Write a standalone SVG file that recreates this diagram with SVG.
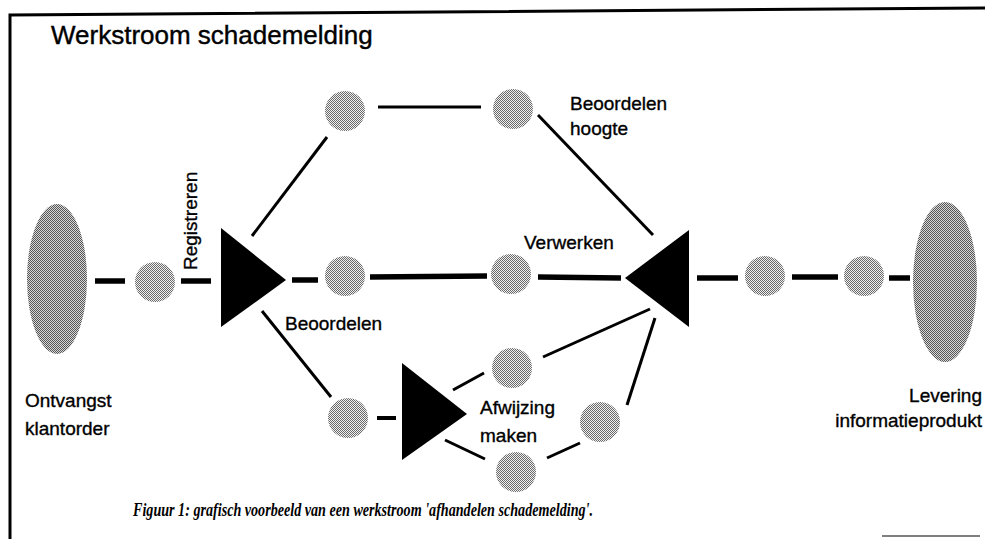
<svg xmlns="http://www.w3.org/2000/svg" width="985" height="539" viewBox="0 0 985 539">
  <defs>
    <!-- halftone screen used for the grey places and the end ovals -->
    <pattern id="screen" width="2" height="2" patternUnits="userSpaceOnUse">
      <rect width="2" height="2" fill="#f0f0f0"/>
      <rect x="0" y="0" width="1" height="1" fill="#6a6a6a"/>
      <rect x="1" y="1" width="1" height="1" fill="#6a6a6a"/>
    </pattern>
    <pattern id="screenDark" width="2" height="2" patternUnits="userSpaceOnUse">
      <rect width="2" height="2" fill="#d8d8d8"/>
      <rect x="0" y="0" width="1" height="1" fill="#555"/>
      <rect x="1" y="1" width="1" height="1" fill="#555"/>
    </pattern>
  </defs>
  <style>
    .frame { stroke: #000; stroke-width: 3; fill: none; }
    .thin { stroke: #000; stroke-width: 1.2; fill: none; }
    .flow { stroke: #000; stroke-width: 5.5; fill: none; }
    .link { stroke: #000; stroke-width: 3; fill: none; }
    .place { fill: url(#screen); }
    .end { fill: url(#screenDark); }
    .tri { fill: #000; }
    .lbl { font-family: "Liberation Sans", Arial, sans-serif; font-size: 19px; fill: #000; stroke: #000; stroke-width: 0.35; }
    .title { font-family: "Liberation Sans", Arial, sans-serif; font-size: 26px; fill: #000; stroke: #000; stroke-width: 0.4; }
    .cap { font-family: "Liberation Serif", "Times New Roman", serif; font-size: 18px; font-weight: bold; font-style: italic; fill: #000; }
  </style>

  <rect width="985" height="539" fill="#fff"/>

  <!-- frame -->
  <path class="frame" d="M10,539 L10,15 L985,8"/>
  <line class="thin" x1="882" y1="536" x2="980" y2="536"/>

  <text class="title" x="51" y="44">Werkstroom schademelding</text>

  <!-- connectors -->
  <g id="connectors">
    <line class="flow" x1="95" y1="281" x2="125" y2="281"/>
    <line class="flow" x1="181" y1="281" x2="211" y2="281"/>
    <line class="flow" x1="292" y1="280" x2="318" y2="280"/>
    <line class="flow" x1="370" y1="277" x2="487" y2="276"/>
    <line class="flow" x1="538" y1="277" x2="621" y2="278"/>
    <line class="flow" x1="697" y1="278" x2="738" y2="278"/>
    <line class="flow" x1="792" y1="277" x2="838" y2="277"/>
    <line class="flow" x1="889" y1="278" x2="910" y2="278"/>
    <line class="link" x1="378" y1="107" x2="481" y2="107"/>
    <line class="link" x1="327" y1="137" x2="252" y2="236"/>
    <line class="link" x1="538" y1="115" x2="653" y2="235"/>
    <line class="link" x1="262" y1="311" x2="331" y2="397"/>
    <line class="flow" x1="377" y1="418" x2="396" y2="418" style="stroke-width:4"/>
    <line class="link" x1="453" y1="390" x2="484" y2="373"/>
    <line class="link" x1="543" y1="357" x2="650" y2="309"/>
    <line class="link" x1="445" y1="440" x2="485" y2="459"/>
    <line class="link" x1="547" y1="458" x2="580" y2="443"/>
    <line class="link" x1="627" y1="405" x2="655" y2="318"/>
  </g>

  <!-- start: incoming order -->
  <g id="start">
    <ellipse class="end" cx="57" cy="279" rx="30" ry="75"/>
    <text class="lbl" x="25" y="407">Ontvangst</text>
    <text class="lbl" x="25" y="435">klantorder</text>
  </g>

  <g id="p1"><circle class="place" cx="155" cy="282" r="20"/></g>

  <g id="registreren">
    <polygon class="tri" points="221,228 221,327 286,280"/>
    <text class="lbl" transform="translate(197,270) rotate(-90)">Registreren</text>
  </g>

  <g id="p-top1"><circle class="place" cx="345" cy="111" r="20"/></g>
  <g id="p-top2">
    <circle class="place" cx="513" cy="109" r="20"/>
    <text class="lbl" x="570" y="110">Beoordelen</text>
    <text class="lbl" x="570" y="135">hoogte</text>
  </g>

  <g id="p-mid1"><circle class="place" cx="345" cy="276" r="20"/></g>
  <g id="p-mid2"><circle class="place" cx="511" cy="274" r="20"/></g>

  <g id="beoordelen">
    <text class="lbl" x="285" y="330">Beoordelen</text>
  </g>

  <g id="p-low1"><circle class="place" cx="348" cy="418" r="20"/></g>

  <g id="afwijzing">
    <polygon class="tri" points="402,363 402,460 467,414"/>
    <text class="lbl" x="480" y="414">Afwijzing</text>
    <text class="lbl" x="480" y="442">maken</text>
  </g>

  <g id="p-low2"><circle class="place" cx="512" cy="368" r="20"/></g>
  <g id="p-low3"><circle class="place" cx="516" cy="472" r="20"/></g>
  <g id="p-low4"><circle class="place" cx="600" cy="422" r="20"/></g>

  <g id="verwerken">
    <polygon class="tri" points="689,230 689,327 625,278"/>
    <text class="lbl" x="524" y="249">Verwerken</text>
  </g>

  <g id="p-out1"><circle class="place" cx="765" cy="276" r="20"/></g>
  <g id="p-out2"><circle class="place" cx="864" cy="276" r="20"/></g>

  <!-- end: delivered information product -->
  <g id="end">
    <ellipse class="end" cx="945" cy="282" rx="32" ry="80"/>
    <text class="lbl" x="982" y="402" text-anchor="end">Levering</text>
    <text class="lbl" x="982" y="427" text-anchor="end">informatieprodukt</text>
  </g>

  <text class="cap" x="133" y="516" textLength="460" lengthAdjust="spacingAndGlyphs">Figuur 1: grafisch voorbeeld van een werkstroom 'afhandelen schademelding'.</text>
</svg>
